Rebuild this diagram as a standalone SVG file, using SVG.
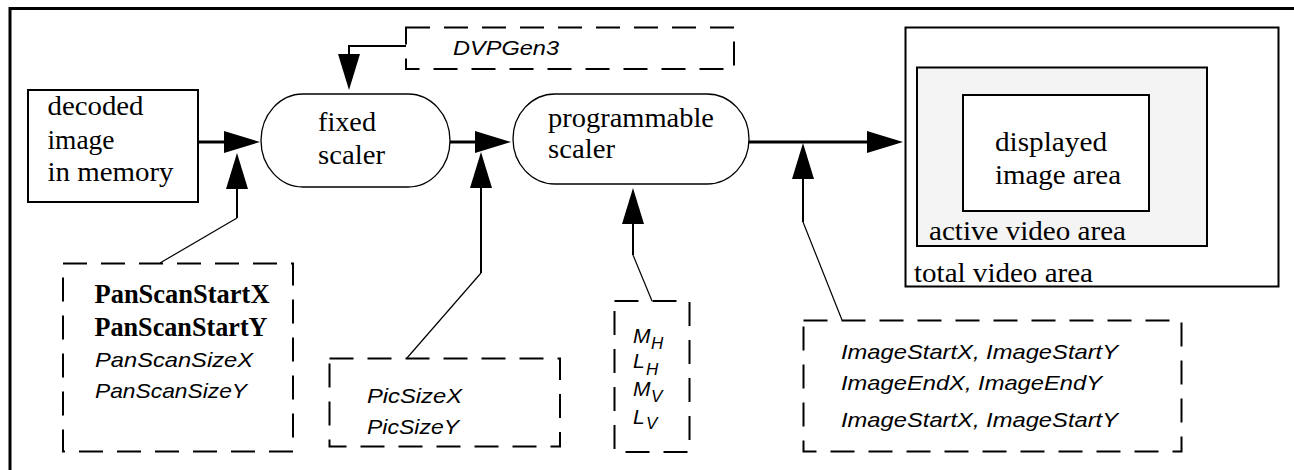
<svg xmlns="http://www.w3.org/2000/svg" width="1294" height="470" viewBox="0 0 1294 470">
<style>
.frame{fill:none;stroke:#000;stroke-width:3}
.box{fill:#fff;stroke:#000;stroke-width:2}
.pill{fill:#fff;stroke:#000;stroke-width:1.3}
.dash{fill:none;stroke:#000;stroke-width:2;stroke-dasharray:24 14}
.serif{font-family:"Liberation Serif","Times New Roman",serif;font-size:28px;fill:#000}
.bold{font-weight:bold;font-size:26.5px}
.sans{font-family:"Liberation Sans",Arial,sans-serif;font-style:italic;font-size:21px;fill:#000}
.main{stroke:#000;stroke-width:3;fill:none}
.vert{stroke:#000;stroke-width:2;fill:none}
.thin{stroke:#000;stroke-width:1.2;fill:none}
</style>
<defs>
<marker id="ah" markerUnits="userSpaceOnUse" markerWidth="36" markerHeight="22" viewBox="0 0 36 22" refX="0" refY="11" orient="auto">
<path d="M0,0 L36,11 L0,22 z" fill="#000"/>
</marker>
</defs>
<rect width="1294" height="470" fill="#fff"/>
<path class="frame" d="M10,470 V8.5 H1294"/>

<g id="decoded">
<rect class="box" x="28" y="90" width="170" height="112"/>
<text class="serif" x="47.5" y="115" textLength="96" lengthAdjust="spacingAndGlyphs">decoded</text>
<text class="serif" x="47.5" y="148.5" textLength="67" lengthAdjust="spacingAndGlyphs">image</text>
<text class="serif" x="47.5" y="181" textLength="126" lengthAdjust="spacingAndGlyphs">in memory</text>
</g>

<g id="fixed-scaler">
<rect class="pill" x="261" y="94" width="189" height="93" rx="42" ry="46.5"/>
<text class="serif" x="318" y="131" textLength="58" lengthAdjust="spacingAndGlyphs">fixed</text>
<text class="serif" x="318" y="164" textLength="67" lengthAdjust="spacingAndGlyphs">scaler</text>
</g>

<g id="programmable-scaler">
<rect class="pill" x="513" y="94" width="236" height="90" rx="42" ry="45"/>
<text class="serif" x="548" y="127" textLength="166" lengthAdjust="spacingAndGlyphs">programmable</text>
<text class="serif" x="548" y="157.5" textLength="67" lengthAdjust="spacingAndGlyphs">scaler</text>
</g>

<g id="video-area">
<rect class="box" x="905.5" y="27.5" width="373" height="259"/>
<rect x="917" y="67.5" width="290" height="178.5" fill="#f4f4f4" stroke="#000" stroke-width="2"/>
<rect class="box" x="963" y="95" width="186" height="116"/>
<text class="serif" x="995" y="151" textLength="112" lengthAdjust="spacingAndGlyphs">displayed</text>
<text class="serif" x="995" y="183.5" textLength="126" lengthAdjust="spacingAndGlyphs">image area</text>
<text class="serif" x="929" y="240" textLength="197" lengthAdjust="spacingAndGlyphs">active video area</text>
<text class="serif" x="914" y="282" textLength="179" lengthAdjust="spacingAndGlyphs">total video area</text>
</g>

<g id="dvpgen3">
<rect class="dash" x="406" y="27.5" width="328" height="41.5"/>
<text class="sans" x="453" y="55" font-size="20" textLength="106" lengthAdjust="spacingAndGlyphs">DVPGen3</text>
</g>

<g id="panscan">
<rect class="dash" x="63" y="263.5" width="230" height="188"/>
<text class="serif bold" x="94.5" y="303" textLength="175" lengthAdjust="spacingAndGlyphs">PanScanStartX</text>
<text class="serif bold" x="94.5" y="336" textLength="173" lengthAdjust="spacingAndGlyphs">PanScanStartY</text>
<text class="sans" x="95" y="367" textLength="158" lengthAdjust="spacingAndGlyphs">PanScanSizeX</text>
<text class="sans" x="95" y="398" textLength="152" lengthAdjust="spacingAndGlyphs">PanScanSizeY</text>
</g>

<g id="picsize">
<rect class="dash" x="329.5" y="358.5" width="230.5" height="88"/>
<text class="sans" x="367" y="403" textLength="95" lengthAdjust="spacingAndGlyphs">PicSizeX</text>
<text class="sans" x="367" y="434" textLength="92" lengthAdjust="spacingAndGlyphs">PicSizeY</text>
</g>

<g id="factors">
<rect class="dash" x="614.5" y="301" width="75" height="151"/>
<text class="sans" x="633" y="343" font-size="22">M<tspan x="651" dy="6" font-size="17">H</tspan></text>
<text class="sans" x="633" y="368" font-size="22">L<tspan x="646" dy="7" font-size="17">H</tspan></text>
<text class="sans" x="633" y="396" font-size="22">M<tspan x="651" dy="6" font-size="17">V</tspan></text>
<text class="sans" x="633" y="423.5" font-size="22">L<tspan x="646" dy="5.5" font-size="17">V</tspan></text>
</g>

<g id="image-coords">
<rect class="dash" x="803.5" y="320.5" width="378" height="131"/>
<text class="sans" x="841" y="358.5" textLength="277" lengthAdjust="spacingAndGlyphs">ImageStartX, ImageStartY</text>
<text class="sans" x="841" y="390" textLength="261" lengthAdjust="spacingAndGlyphs">ImageEndX, ImageEndY</text>
<text class="sans" x="841" y="427" textLength="277" lengthAdjust="spacingAndGlyphs">ImageStartX, ImageStartY</text>
</g>

<g id="connectors">
<line class="main" x1="198" y1="142" x2="224" y2="142" marker-end="url(#ah)"/>
<line class="main" x1="450" y1="142" x2="475" y2="142" marker-end="url(#ah)"/>
<line class="main" x1="749" y1="142" x2="867" y2="142" marker-end="url(#ah)"/>
<line class="thin" x1="160" y1="263" x2="237" y2="218"/>
<line class="vert" x1="237" y1="218" x2="237" y2="189" marker-end="url(#ah)"/>
<line class="thin" x1="407" y1="358" x2="481" y2="273"/>
<line class="vert" x1="481" y1="273" x2="481" y2="188" marker-end="url(#ah)"/>
<line class="thin" x1="652" y1="301" x2="633" y2="255"/>
<line class="vert" x1="633" y1="255" x2="633" y2="224" marker-end="url(#ah)"/>
<line class="thin" x1="842" y1="320" x2="803" y2="222"/>
<line class="vert" x1="803" y1="222" x2="803" y2="179" marker-end="url(#ah)"/>
<path class="vert" d="M406,46 H349 V54" marker-end="url(#ah)"/>
</g>
</svg>
